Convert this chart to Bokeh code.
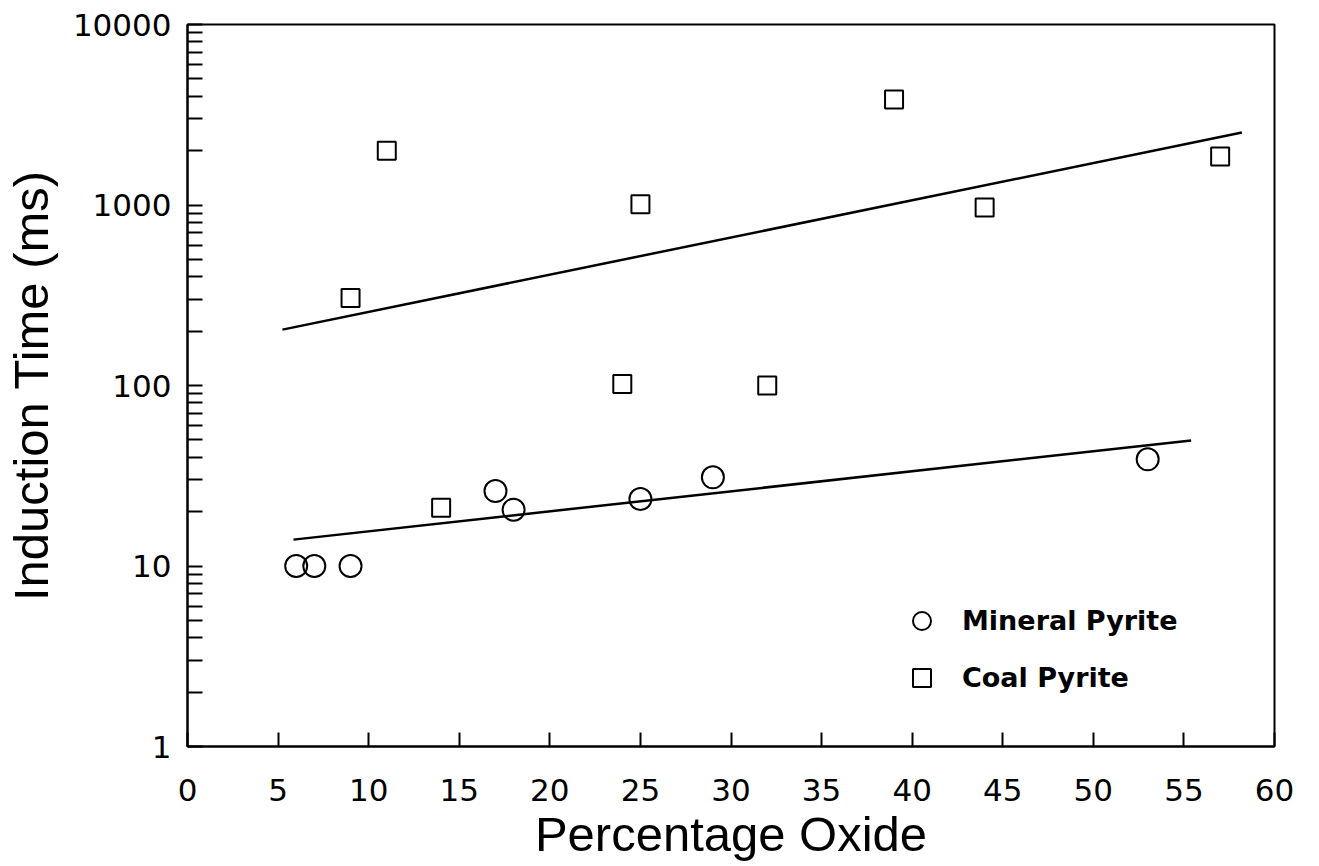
from bokeh.plotting import figure
from bokeh.models import FixedTicker, PrintfTickFormatter, Legend, LegendItem, Range1d
from bokeh.embed import file_html
from bokeh.resources import INLINE

# Mineral pyrite (circles)
mineral_x = [6, 7, 9, 17, 18, 25, 29, 53]
mineral_y = [10, 10, 10, 26, 20.5, 23.5, 31, 39]
# Coal pyrite (squares)
coal_x = [9, 11, 14, 24, 25, 32, 39, 44, 57]
coal_y = [305, 2000, 21, 102, 1010, 100, 3840, 968, 1857]
# Fitted lines (endpoints)
mineral_fit_x = [5.85, 55.4]
mineral_fit_y = [14.0, 49.6]
coal_fit_x = [5.24, 58.2]
coal_fit_y = [204, 2520]

x_ticks = list(range(0, 61, 5))
y_ticks = [1, 10, 100, 1000, 10000]
y_minor = [m * d for d in [1, 10, 100, 1000] for m in range(2, 10)]

FONT = "Liberation Sans"
TICKFONT = "DejaVu Sans"

p = figure(
    frame_width=1087, frame_height=722,
    x_range=Range1d(0, 60), y_range=Range1d(1, 10000),
    y_axis_type="log",
    output_backend="svg", toolbar_location=None,
    min_border_left=180, min_border_top=24, min_border_right=36, min_border_bottom=112,
)
p.grid.visible = False
p.outline_line_color = "black"
p.outline_line_width = 2

p.line(coal_fit_x, coal_fit_y, line_color="black", line_width=2.5)
p.line(mineral_fit_x, mineral_fit_y, line_color="black", line_width=2.5)
circ = p.scatter(mineral_x, mineral_y, marker="circle", size=22, fill_alpha=0,
                 line_color="black", line_width=2)
sq = p.scatter(coal_x, coal_y, marker="square", size=18, fill_alpha=0,
               line_color="black", line_width=2)

# X axis
xa = p.xaxis[0]
xa.ticker = FixedTicker(ticks=x_ticks, minor_ticks=[])
xa.axis_label = "Percentage Oxide"
xa.axis_label_text_font = FONT
xa.axis_label_text_font_size = "49px"
xa.axis_label_text_font_style = "normal"
xa.axis_label_text_color = "black"
xa.axis_label_standoff = 3
xa.major_label_text_font = TICKFONT
xa.major_label_text_font_size = "31px"
xa.major_label_text_color = "black"
xa.major_label_standoff = 32
xa.major_tick_in = 14
xa.major_tick_out = 0
xa.minor_tick_in = 0
xa.minor_tick_out = 0
xa.axis_line_width = 2
xa.major_tick_line_width = 2

# Y axis
ya = p.yaxis[0]
ya.ticker = FixedTicker(ticks=y_ticks, minor_ticks=y_minor)
ya.formatter = PrintfTickFormatter(format="%d")
ya.axis_label = "Induction Time (ms)"
ya.axis_label_text_font = FONT
ya.axis_label_text_font_size = "49px"
ya.axis_label_text_font_style = "normal"
ya.axis_label_text_color = "black"
ya.axis_label_standoff = 12
ya.major_label_text_font = TICKFONT
ya.major_label_text_font_size = "31px"
ya.major_label_text_color = "black"
ya.major_label_standoff = 16
ya.major_label_orientation = "horizontal"
ya.major_tick_in = 15
ya.major_tick_out = 0
ya.minor_tick_in = 15
ya.minor_tick_out = 0
ya.axis_line_width = 2
ya.major_tick_line_width = 2
ya.minor_tick_line_width = 2

legend = Legend(
    items=[LegendItem(label="Mineral Pyrite", renderers=[circ]),
           LegendItem(label="Coal Pyrite", renderers=[sq])],
    location=(712, 46),
    glyph_width=45, glyph_height=45, label_standoff=18,
    padding=0, spacing=12, margin=0,
    border_line_alpha=0, background_fill_alpha=0,
    label_text_font=TICKFONT, label_text_font_size="27px",
    label_text_font_style="bold", label_text_color="black",
)
p.add_layout(legend)

open("out.html", "w").write(file_html(p, INLINE))
